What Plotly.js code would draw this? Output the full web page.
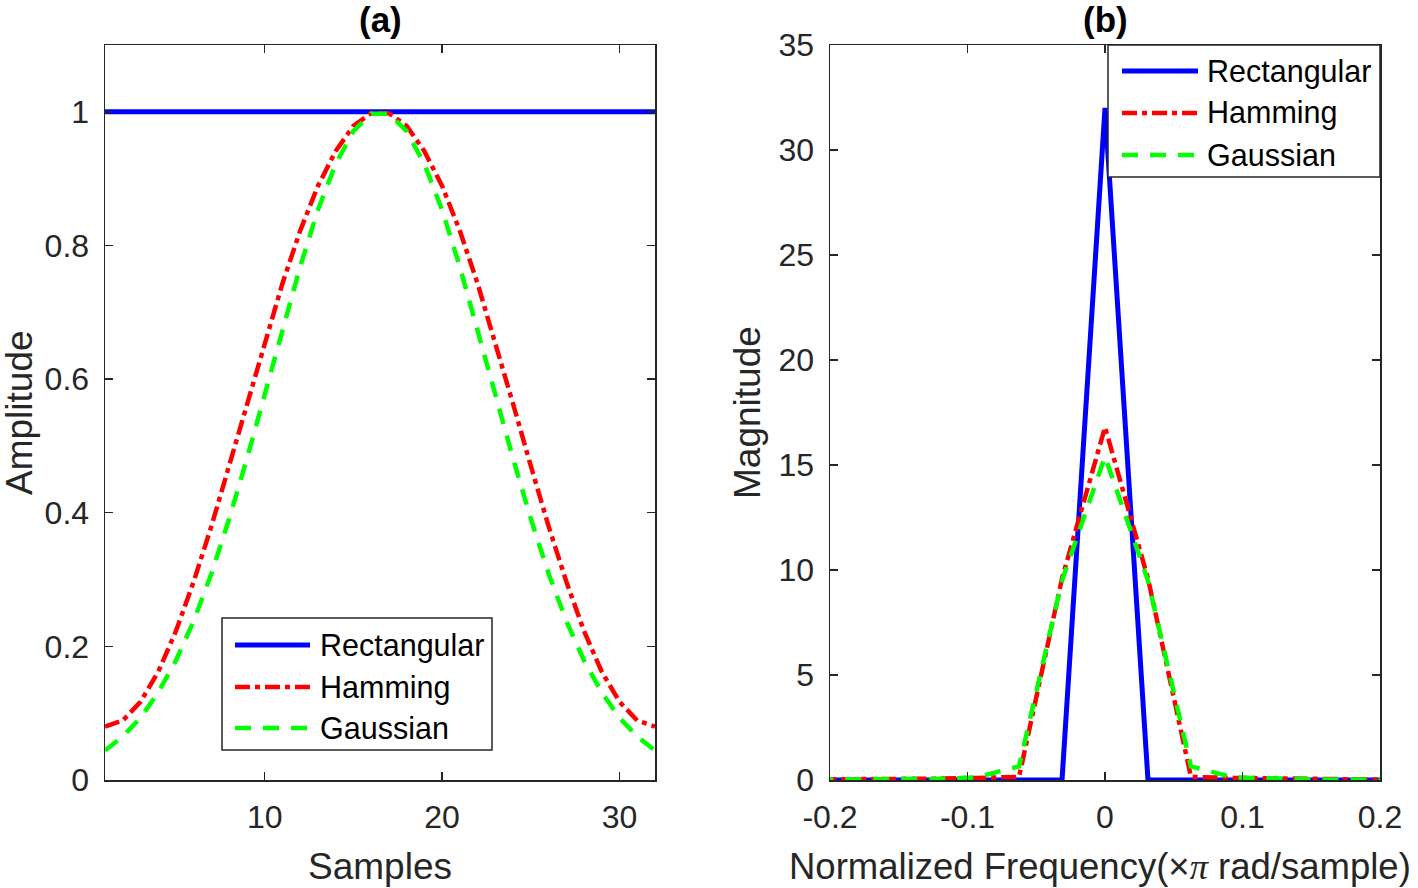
<!DOCTYPE html>
<html>
<head>
<meta charset="utf-8">
<script src="https://cdn.plot.ly/plotly-3.0.1.min.js"></script>
<style>
html,body{margin:0;padding:0;background:#ffffff;}
#chart{width:1418px;height:888px;}
</style>
</head>
<body>
<div id="chart"></div>
<script>
// ---------- data ----------
const samples = [1,2,3,4,5,6,7,8,9,10,11,12,13,14,15,16,17,18,19,20,21,22,23,24,25,26,27,28,29,30,31,32];
const rectangularWin = [1,1,1,1,1,1,1,1,1,1,1,1,1,1,1,1,1,1,1,1,1,1,1,1,1,1,1,1,1,1,1,1];
const hammingWin = [0.080,0.089,0.117,0.162,0.223,0.297,0.380,0.470,0.563,0.655,0.743,0.822,0.889,0.941,0.979,0.998,
                    0.998,0.979,0.941,0.889,0.822,0.743,0.655,0.563,0.470,0.380,0.297,0.223,0.162,0.117,0.089,0.080];
const gaussianWin = [0.044,0.065,0.093,0.131,0.179,0.238,0.309,0.391,0.481,0.577,0.675,0.768,0.853,0.922,0.971,0.997,
                     0.997,0.971,0.922,0.853,0.768,0.675,0.577,0.481,0.391,0.309,0.238,0.179,0.131,0.093,0.065,0.044];

const normFreq = [-0.25,-0.21875,-0.1875,-0.15625,-0.125,-0.09375,-0.0625,-0.03125,0,
                  0.03125,0.0625,0.09375,0.125,0.15625,0.1875,0.21875,0.25];
const rectangularMag = [0,0,0,0,0,0,0,0,32,0,0,0,0,0,0,0,0];
const hammingMag = [0.02,0.02,0.03,0.04,0.06,0.10,0.15,9.6,16.8,9.6,0.15,0.10,0.06,0.04,0.03,0.02,0.02];
const gaussianMag = [0.01,0.01,0.02,0.03,0.05,0.12,0.65,9.5,15.4,9.5,0.65,0.12,0.05,0.03,0.02,0.01,0.01];

const seriesNames = ['Rectangular','Hamming','Gaussian'];

const xTicksA = [10,20,30];
const yTicksA = [0,0.2,0.4,0.6,0.8,1];
const yTickTextA = ['0','0.2','0.4','0.6','0.8','1'];
const xTicksB = [-0.2,-0.1,0,0.1,0.2];
const xTickTextB = ['-0.2','-0.1','0','0.1','0.2'];
const yTicksB = [0,5,10,15,20,25,30,35];

// ---------- styles ----------
const W = 1418, H = 888;
const FONT = '"Liberation Sans", Arial, Helvetica, sans-serif';
const AXC = '#262626';
const styles = [
  {color:'#0000ff', width:5, dash:'solid'},
  {color:'#ff0000', width:4.5, dash:'15px,5px,5px,5px'},
  {color:'#00ff00', width:4.5, dash:'16px,12px'}
];
const px = v => v / W;
const py = v => 1 - v / H;

function mk(x, y, i, xa, ya) {
  return {x:x, y:y, type:'scatter', mode:'lines', name:seriesNames[i],
          xaxis:xa, yaxis:ya, showlegend:false, hoverinfo:'skip',
          line:{color:styles[i].color, width:styles[i].width, dash:styles[i].dash}};
}

const traces = [
  mk(samples, rectangularWin, 0, 'x', 'y'),
  mk(samples, hammingWin, 1, 'x', 'y'),
  mk(samples, gaussianWin, 2, 'x', 'y'),
  mk(normFreq, rectangularMag, 0, 'x2', 'y2'),
  mk(normFreq, hammingMag, 1, 'x2', 'y2'),
  mk(normFreq, gaussianMag, 2, 'x2', 'y2')
];

function axisBase() {
  return {showgrid:false, zeroline:false, showline:true, linecolor:AXC, linewidth:1.5,
          mirror:'ticks', ticks:'inside', ticklen:8, tickwidth:1.5, tickcolor:AXC,
          tickfont:{family:FONT, size:32, color:AXC}, automargin:false, fixedrange:true};
}

const xa = Object.assign(axisBase(), {domain:[px(105), px(655)], range:[1,32], tickmode:'array',
  tickvals:xTicksA, ticktext:xTicksA.map(String), anchor:'y', ticklabelstandoff:8});
const ya = Object.assign(axisBase(), {domain:[py(780), py(45)], range:[0,1.1], tickmode:'array',
  tickvals:yTicksA, ticktext:yTickTextA, anchor:'x', ticklabelstandoff:8});
const xb = Object.assign(axisBase(), {domain:[px(830), px(1380)], range:[-0.2,0.2], tickmode:'array',
  tickvals:xTicksB, ticktext:xTickTextB, anchor:'y2', ticklabelstandoff:8});
const yb = Object.assign(axisBase(), {domain:[py(780), py(45)], range:[0,35], tickmode:'array',
  tickvals:yTicksB, ticktext:yTicksB.map(String), anchor:'x2', ticklabelstandoff:8});

const annotations = [];
const shapes = [];
function txt(text, x, y, size, opts) {
  annotations.push(Object.assign({text:text, x:px(x), y:py(y), xref:'paper', yref:'paper',
    showarrow:false, xanchor:'center', yanchor:'middle', font:{family:FONT, size:size, color:'#000000'}}, opts || {}));
}
// subplot titles
txt('<b>(a)</b>', 380, 20, 35);
txt('<b>(b)</b>', 1105, 20, 35);
// axis titles
const labelFont = {family:FONT, size:37, color:AXC};
txt('Samples', 380, 866, 37, {font:labelFont});
txt('Amplitude', 19, 413, 37, {textangle:-90, font:labelFont});
txt('Magnitude', 748, 412, 37, {textangle:-90, font:labelFont});
txt('Normalized Frequency(\u00d7<span style="font-family:\'Liberation Serif\',\'DejaVu Serif\',serif"><i>\u03c0</i></span> rad/sample)',
    1100, 866, 36.5, {font:{family:FONT, size:36.5, color:AXC}});

// legends (drawn as boxes with sample lines and labels)
const legendSpecs = [
  {box:[222,618,492,750], lineX:[235,310], textX:318, rowY:[645,687,728]},
  {box:[1108,45,1380,177], lineX:[1122,1198], textX:1205, rowY:[71,113,155]}
];
legendSpecs.forEach(spec => {
  shapes.push({type:'rect', xref:'paper', yref:'paper', x0:px(spec.box[0]), x1:px(spec.box[2]),
    y0:py(spec.box[3]), y1:py(spec.box[1]), line:{color:AXC, width:1.5}, fillcolor:'#ffffff', layer:'above'});
  seriesNames.forEach((name, i) => {
    shapes.push({type:'line', xref:'paper', yref:'paper', x0:px(spec.lineX[0]), x1:px(spec.lineX[1]),
      y0:py(spec.rowY[i]), y1:py(spec.rowY[i]),
      line:{color:styles[i].color, width:styles[i].width, dash:styles[i].dash}, layer:'above'});
    txt(name, spec.textX, spec.rowY[i], 30.5, {xanchor:'left'});
  });
});

const layout = {
  width:W, height:H, margin:{l:0, r:0, t:0, b:0, pad:0},
  paper_bgcolor:'#ffffff', plot_bgcolor:'#ffffff',
  showlegend:false, font:{family:FONT, color:AXC},
  xaxis:xa, yaxis:ya, xaxis2:xb, yaxis2:yb,
  annotations:annotations, shapes:shapes
};

Plotly.newPlot('chart', traces, layout, {displayModeBar:false, staticPlot:true});
</script>
</body>
</html>
